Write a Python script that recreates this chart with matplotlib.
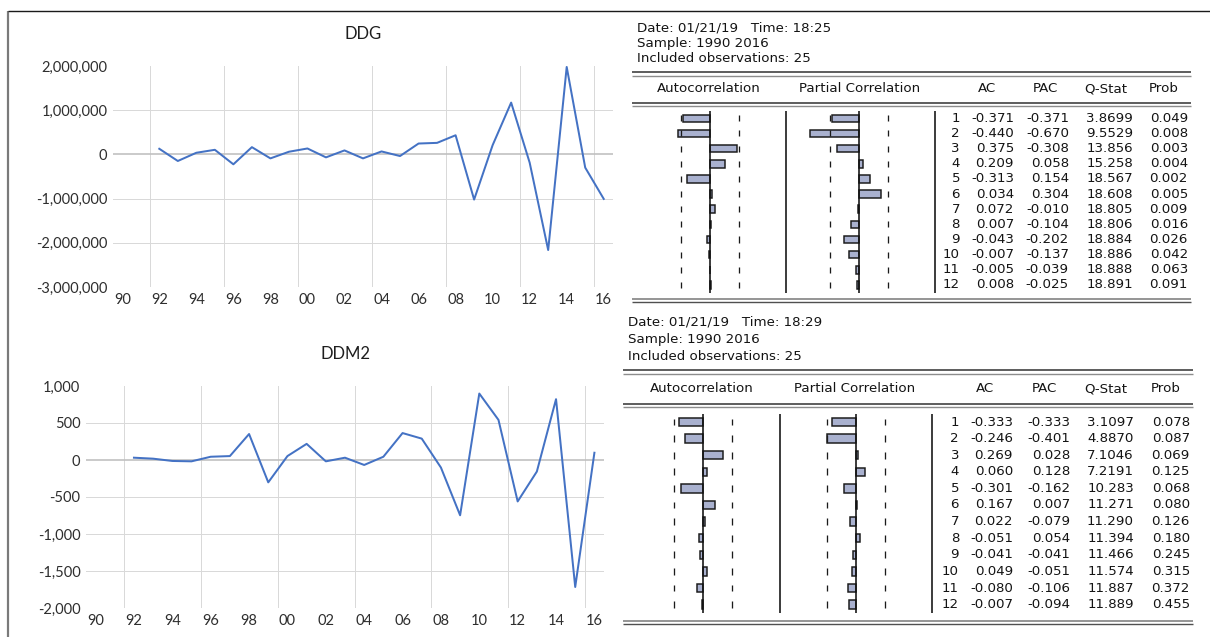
import numpy as np
import matplotlib
matplotlib.use("Agg")
import matplotlib.pyplot as plt

W, H = 1210, 637

# ---------------- data ----------------
years = list(range(1992, 2017))
ddg = [127000, -149000, 37000, 104000, -224000, 164000, -90000, 60000, 134000,
       -67000, 90000, -90000, 67000, -37000, 246000, 261000, 433000, -1022000,
       209000, 1172000, -187000, -2164000, 1978000, -299000, -1007000]
ddm2 = [31, 18, -13, -18, 44, 53, 351, -302, 53, 218, -18, 31, -67, 44, 364,
        289, -102, -747, 898, 542, -560, -156, 822, -1716, 98]

x_tick_years = list(range(1990, 2017, 2))
x_tick_labels = [f"{y % 100:02d}" for y in x_tick_years]
ddg_yticks = [2000000, 1000000, 0, -1000000, -2000000, -3000000]
ddm2_yticks = [1000, 500, 0, -500, -1000, -1500, -2000]

lags = list(range(1, 13))
n_obs = 25
ddg_ac = [-0.371, -0.440, 0.375, 0.209, -0.313, 0.034, 0.072, 0.007, -0.043, -0.007, -0.005, 0.008]
ddg_pac = [-0.371, -0.670, -0.308, 0.058, 0.154, 0.304, -0.010, -0.104, -0.202, -0.137, -0.039, -0.025]
ddg_q = [3.8699, 9.5529, 13.856, 15.258, 18.567, 18.608, 18.805, 18.806, 18.884, 18.886, 18.888, 18.891]
ddg_prob = [0.049, 0.008, 0.003, 0.004, 0.002, 0.005, 0.009, 0.016, 0.026, 0.042, 0.063, 0.091]

ddm2_ac = [-0.333, -0.246, 0.269, 0.060, -0.301, 0.167, 0.022, -0.051, -0.041, 0.049, -0.080, -0.007]
ddm2_pac = [-0.333, -0.401, 0.028, 0.128, -0.162, 0.007, -0.079, 0.054, -0.041, -0.051, -0.106, -0.094]
ddm2_q = [3.1097, 4.8870, 7.1046, 7.2191, 10.283, 11.271, 11.290, 11.394, 11.466, 11.574, 11.887, 11.889]
ddm2_prob = [0.078, 0.087, 0.069, 0.125, 0.068, 0.080, 0.126, 0.180, 0.245, 0.315, 0.372, 0.455]

ddg_info = ["Date: 01/21/19   Time: 18:25", "Sample: 1990 2016", "Included observations: 25"]
ddm2_info = ["Date: 01/21/19   Time: 18:29", "Sample: 1990 2016", "Included observations: 25"]
headers = ["Autocorrelation", "Partial Correlation", "AC", "PAC", "Q-Stat", "Prob"]

# ---------------- figure ----------------
fig = plt.figure(figsize=(W / 100, H / 100), dpi=100)
fig.patch.set_facecolor("white")

def px_box(x0, y0, x1, y1):
    return [x0 / W, 1 - y1 / H, (x1 - x0) / W, (y1 - y0) / H]

def pxlw(p):
    return p * 0.72

ov = fig.add_axes([0, 0, 1, 1])
ov.set_xlim(0, W)
ov.set_ylim(H, 0)
ov.axis("off")

# outer frame
ov.plot([8, 8], [10.5, H], color="#7a7a7a", lw=pxlw(2.2), solid_capstyle="butt")
ov.plot([8, W], [10.5, 10.5], color="#1a1a1a", lw=pxlw(1.4), solid_capstyle="butt")

XL_FONT = "Lato"
XL_COLOR = "#2e2e2e"

def line_chart(box, title, title_y, vals, yticks):
    ax = fig.add_axes(px_box(*box))
    ax.set_facecolor("none")
    ax.plot(years, vals, color="#4472C4", lw=pxlw(2.0), zorder=3)
    ax.set_xlim(1989.5, 2016.5)
    ax.set_ylim(min(yticks), max(yticks))
    for s in ax.spines.values():
        s.set_visible(False)
    ax.set_xticks(x_tick_years, x_tick_labels)
    ax.set_yticks(yticks, [f"{v:,}" for v in yticks])
    ax.tick_params(length=0, labelsize=10.5, labelcolor=XL_COLOR, pad=4)
    for lab in ax.get_xticklabels() + ax.get_yticklabels():
        lab.set_fontfamily(XL_FONT)
    for v in yticks:
        if v not in (min(yticks), max(yticks), 0):
            ax.axhline(v, color="#d9d9d9", lw=pxlw(1.0), zorder=1)
    for g in np.arange(1991.5, 2017, 4):
        ax.axvline(g, color="#d9d9d9", lw=pxlw(1.0), zorder=1)
    ax.axhline(0, color="#bfbfbf", lw=pxlw(1.6), zorder=2)
    cx = (box[0] + box[2]) / 2
    ov.text(cx, title_y, title, ha="center", va="center", fontsize=12,
            family=XL_FONT, color="#1e1e1e")
    return ax

line_chart((113, 66, 613, 287), "DDG", 34, ddg, ddg_yticks)
line_chart((86, 386, 604, 608), "DDM2", 354, ddm2, ddm2_yticks)

EV_FONT = "DejaVu Sans"
EV_SIZE = 9.6
EV_COLOR = "#141414"
BAR_FILL = "#a9b1cf"

def correlogram(L, info, ac, pac, q, prob):
    for s, y in zip(info, L["info_y"]):
        ov.text(L["text_x"], y, s, ha="left", va="center", fontsize=EV_SIZE,
                family=EV_FONT, color=EV_COLOR)
    x0, x1 = L["rule"]
    def double(ya, yb, first_dark=True):
        c1, c2 = ("#505050", "#8c8c8c") if first_dark else ("#8c8c8c", "#505050")
        ov.plot([x0, x1], [ya, ya], color=c1, lw=pxlw(1.8), solid_capstyle="butt")
        ov.plot([x0, x1], [yb, yb], color=c2, lw=pxlw(1.4), solid_capstyle="butt")
    double(*L["top2"])
    double(*L["head2"])
    double(*L["bot2"], first_dark=False)
    for h, cx in zip(headers, L["head_x"]):
        ov.text(cx, L["head_y"], h, ha="center", va="center", fontsize=EV_SIZE,
                family=EV_FONT, color=EV_COLOR)
    vy0 = L["row1"] - L["step"] / 2
    vy1 = L["row1"] + (len(lags) - 0.5) * L["step"]
    for sx in L["seps"]:
        ov.plot([sx, sx], [vy0, vy1], color="#111111", lw=pxlw(1.6), solid_capstyle="butt")
    conf = 2 / np.sqrt(n_obs)
    for zero, vals in ((L["ac_zero"], ac), (L["pac_zero"], pac)):
        ax = fig.add_axes(px_box(zero - L["scale"], vy0, zero + L["scale"], vy1))
        ax.set_xlim(-1, 1)
        ax.set_ylim(len(lags) + 0.5, 0.5)
        ax.axis("off")
        ax.barh(lags, vals, height=0.5, color=BAR_FILL, edgecolor="#1a1a1a",
                lw=pxlw(1.5), zorder=2)
        ax.axvline(0, color="#111111", lw=pxlw(1.6), zorder=3)
        for c in (-conf, conf):
            ax.vlines([c] * len(lags), [l - 0.2 for l in lags], [l + 0.2 for l in lags],
                      color="#1a1a1a", lw=pxlw(1.3))
    cols = L["col_r"]
    for i, lag in enumerate(lags):
        y = L["row1"] + i * L["step"]
        qs = f"{q[i]:.4f}" if q[i] < 10 else f"{q[i]:.3f}"
        cells = [str(lag), f"{ac[i]:.3f}", f"{pac[i]:.3f}", qs, f"{prob[i]:.3f}"]
        for s, xr in zip(cells, cols):
            ov.text(xr, y, s, ha="right", va="center", fontsize=EV_SIZE,
                    family=EV_FONT, color=EV_COLOR)

top_layout = dict(text_x=637, info_y=[28, 43, 58], rule=(632, 1191),
                  top2=(72, 75.5), head_y=88.5, head2=(102.5, 105.8), bot2=(298.5, 302),
                  head_x=[709, 860, 987, 1045, 1105.5, 1164],
                  row1=118.3, step=15.15, seps=(786, 935),
                  ac_zero=710, pac_zero=859, scale=73,
                  col_r=[960, 1014, 1069, 1133, 1188])
bot_layout = dict(text_x=628, info_y=[322, 339, 356], rule=(623, 1193),
                  top2=(370, 374), head_y=389, head2=(403.5, 407), bot2=(620.5, 623.8),
                  head_x=[702, 855, 985, 1044.5, 1105.5, 1166],
                  row1=422, step=16.6, seps=(780, 932),
                  ac_zero=703, pac_zero=856, scale=73,
                  col_r=[959, 1013, 1070, 1134, 1190])

correlogram(top_layout, ddg_info, ddg_ac, ddg_pac, ddg_q, ddg_prob)
correlogram(bot_layout, ddm2_info, ddm2_ac, ddm2_pac, ddm2_q, ddm2_prob)

fig.savefig("out.png", dpi=100, facecolor="white")
